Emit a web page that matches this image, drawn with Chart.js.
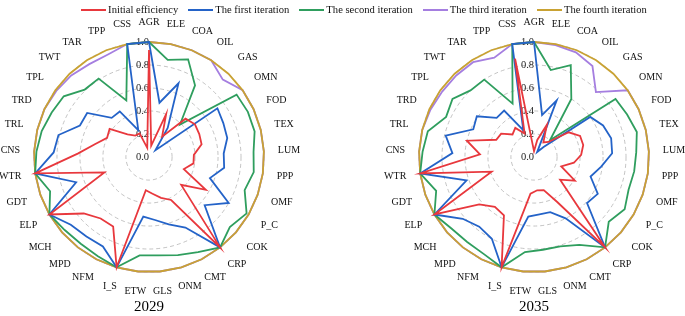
<!DOCTYPE html>
<html lang="en">
<head>
<meta charset="UTF-8">
<title>Efficiency iterations 2029 / 2035</title>
<script src="https://cdn.jsdelivr.net/npm/chart.js"></script>
<style>
  body { margin: 0; background: #fff; width: 685px; height: 316px; overflow: hidden; position: relative;
         font-family: "Liberation Serif", "Times New Roman", serif; }
  .legend { position: absolute; top: 3px; left: 44px; width: 640px; display: flex; justify-content: center;
            font-size: 10.6px; color: #111; line-height: 13px; z-index: 2; }
  .legend .item { display: flex; align-items: center; margin: 0 5px; }
  .legend i { display: inline-block; width: 25px; height: 2px; margin-right: 2px; }
  .box { position: absolute; top: 7px; width: 320px; height: 300px; }
  .year { position: absolute; top: 297px; width: 100px; text-align: center; font-size: 15px; line-height: 18px; color: #000; }
</style>
</head>
<body>
<div class="legend" id="legend"></div>
<div class="box" style="left:-11px"><canvas id="chart2029"></canvas></div>
<div class="box" style="left:374px"><canvas id="chart2035"></canvas></div>
<div class="year" style="left:99px">2029</div>
<div class="year" style="left:484px">2035</div>

<script>
const sectors = ['AGR', 'ELE', 'COA', 'OIL', 'GAS', 'OMN', 'FOD', 'TEX', 'LUM', 'PPP', 'OMF', 'P_C',
  'COK', 'CRP', 'CMT', 'ONM', 'GLS', 'ETW', 'I_S', 'NFM', 'MPD', 'MCH', 'ELP', 'GDT', 'WTR', 'CNS',
  'TRL', 'TRD', 'TPL', 'TWT', 'TAR', 'TPP', 'CSS'];

const seriesNames = ['Initial efficiency', 'The first iteration', 'The second iteration',
  'The third iteration', 'The fourth iteration'];
const seriesColors = ['#e8383d', '#2463c8', '#2f9e5e', '#a57ee0', '#c9a233'];
// which series sits on top (lower = drawn later)
const drawOrder = [0, 1, 2, 4, 3];

// 2029
const initial2029 = [0.93, 0.10, 0.40, 0.21, 0.46, 0.49, 0.48, 0.47, 0.39, 0.39, 0.32, 0.57, 0.37, 1.0, 0.42, 0.37, 0.32, 0.29, 1.0, 0.68, 0.68, 0.75, 1.0, 0.41, 1.0, 0.62, 0.48, 0.40, 0.42, 0.27, 0.22, 0.22, 0.08];
const first2029   = [1.0, 0.48, 0.69, 0.30, 0.08, 0.73, 0.71, 0.70, 0.65, 0.66, 0.56, 0.80, 0.64, 1.0, 0.69, 0.61, 0.55, 0.52, 1.0, 0.875, 0.88, 0.90, 1.0, 0.67, 1.0, 0.83, 0.81, 0.66, 0.66, 0.47, 0.47, 0.25, 1.0];
const second2029  = [1.0, 0.86, 0.915, 0.74, 0.39, 0.935, 0.945, 0.945, 0.91, 0.92, 0.88, 0.98, 0.93, 1.0, 0.93, 0.89, 0.86, 0.86, 1.0, 0.97, 0.96, 0.97, 1.0, 0.91, 1.0, 0.98, 0.96, 0.93, 0.91, 0.81, 0.81, 0.53, 1.0];
const third2029   = [1.0, 1.0, 1.0, 1.0, 0.93, 1.0, 1.0, 1.0, 1.0, 1.0, 1.0, 1.0, 1.0, 1.0, 1.0, 1.0, 1.0, 1.0, 1.0, 1.0, 1.0, 1.0, 1.0, 1.0, 1.0, 1.0, 1.0, 1.0, 0.99, 0.98, 0.96, 0.96, 1.0];
const fourth2029  = [1, 1, 1, 1, 1, 1, 1, 1, 1, 1, 1, 1, 1, 1, 1, 1, 1, 1, 1, 1, 1, 1, 1, 1, 1, 1, 1, 1, 1, 1, 1, 1, 1];

// 2035
const initial2035 = [0.05, 0.15, 0.30, 0.15, 0.18, 0.37, 0.44, 0.44, 0.41, 0.35, 0.25, 0.41, 0.30, 1.0, 0.44, 0.30, 0.29, 0.32, 1.0, 0.57, 0.55, 0.63, 1.0, 0.39, 1.0, 0.47, 0.60, 0.36, 0.35, 0.27, 0.30, 0.22, 0.87];
const first2035   = [1.0, 0.37, 0.53, 0.05, 0.12, 0.60, 0.66, 0.69, 0.68, 0.59, 0.52, 0.64, 0.61, 1.0, 0.60, 0.50, 0.50, 0.52, 1.0, 0.80, 0.77, 0.82, 1.0, 0.62, 1.0, 0.71, 0.79, 0.58, 0.61, 0.47, 0.48, 0.25, 1.0];
const second2035  = [1.0, 0.77, 0.86, 0.60, 0.20, 0.87, 0.89, 0.92, 0.89, 0.88, 0.87, 0.91, 0.86, 1.0, 0.86, 0.81, 0.81, 0.83, 1.0, 0.95, 0.94, 0.95, 1.0, 0.90, 1.0, 0.97, 0.95, 0.84, 0.87, 0.80, 0.80, 0.50, 1.0];
const third2035   = [1.0, 0.99, 0.98, 0.94, 0.78, 1.0, 1.0, 1.0, 1.0, 1.0, 1.0, 1.0, 1.0, 1.0, 1.0, 1.0, 1.0, 1.0, 1.0, 1.0, 1.0, 1.0, 1.0, 1.0, 1.0, 1.0, 1.0, 0.99, 0.98, 0.98, 0.98, 0.93, 1.0];
const fourth2035  = [1, 1, 1, 1, 1, 1, 1, 1, 1, 1, 1, 1, 1, 1, 1, 1, 1, 1, 1, 1, 1, 1, 1, 1, 1, 1, 1, 1, 1, 1, 1, 1, 1];

const serif = '"Liberation Serif", "Times New Roman", serif';

// html legend shared by both charts
const legend = document.getElementById('legend');
seriesNames.forEach((name, i) => {
  const item = document.createElement('span');
  item.className = 'item';
  item.innerHTML = `<i style="background:${seriesColors[i]}"></i>${name}`;
  legend.appendChild(item);
});

// sector names centred around the rim (chart.js would left/right align them)
const sectorLabels = {
  id: 'sectorLabels',
  afterDraw(chart) {
    const scale = chart.scales.r;
    const ctx = chart.ctx;
    const clamp = v => Math.max(-1, Math.min(1, v));
    ctx.save();
    ctx.font = '10px ' + serif;
    ctx.fillStyle = '#111';
    ctx.textAlign = 'center';
    ctx.textBaseline = 'middle';
    chart.data.labels.forEach((lbl, i) => {
      const a = scale.getIndexAngle(i);
      const p = scale.getPointPosition(i, scale.drawingArea + 14);
      const w = ctx.measureText(lbl).width;
      const x = p.x + clamp(1.4 * Math.sin(a)) * w / 2;
      const y = p.y - clamp(1.4 * Math.cos(a)) * 6;
      ctx.fillText(lbl, x, y);
    });
    ctx.restore();
  }
};

function makeRadar(id, series) {
  const datasets = series.map((vals, i) => ({
    label: seriesNames[i],
    data: vals,
    borderColor: seriesColors[i],
    backgroundColor: 'transparent',
    borderWidth: 1.8,
    pointRadius: 0,
    fill: false,
    order: drawOrder[i]
  }));

  new Chart(document.getElementById(id), {
    type: 'radar',
    data: { labels: sectors, datasets },
    plugins: [sectorLabels],
    options: {
      responsive: true,
      maintainAspectRatio: false,
      animation: false,
      layout: { padding: { left: 37.5, right: 37.5, top: 27.5, bottom: 27.5 } },
      scales: {
        r: {
          min: -0.001,
          max: 1,
          ticks: {
            stepSize: 0.2,
            font: { family: serif, size: 10.5 },
            color: '#222',
            showLabelBackdrop: false,
            callback: v => Math.abs(v).toFixed(1) + '\u2003 '
          },
          grid: { circular: true, color: '#b5b5b5', lineWidth: 0.8 },
          border: { dash: [4, 3] },
          angleLines: { display: false },
          pointLabels: { display: false }
        }
      },
      plugins: {
        legend: { display: false },
        tooltip: { enabled: false }
      }
    }
  });
}

makeRadar('chart2029', [initial2029, first2029, second2029, third2029, fourth2029]);
makeRadar('chart2035', [initial2035, first2035, second2035, third2035, fourth2035]);
</script>
</body>
</html>
